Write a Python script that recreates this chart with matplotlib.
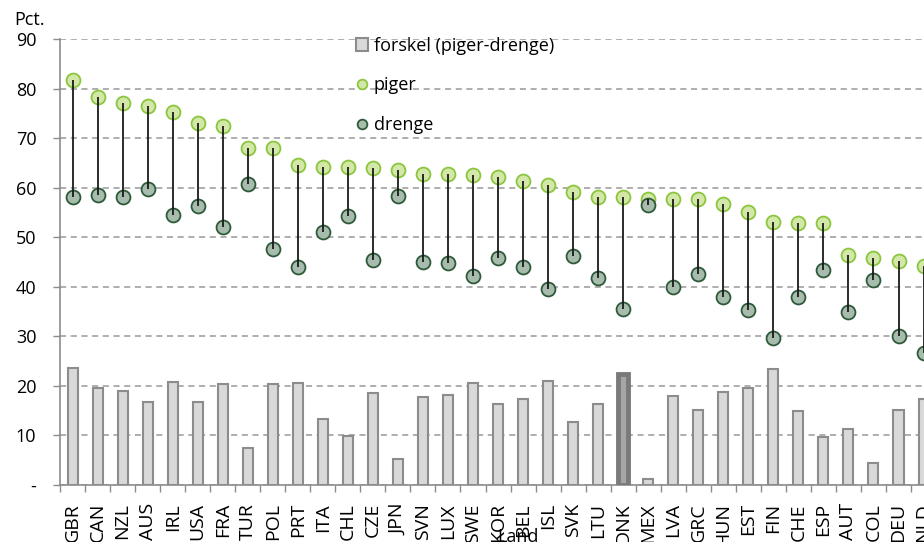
import numpy as np
import matplotlib.pyplot as plt
from matplotlib.lines import Line2D
from matplotlib.patches import Patch

lande = ['GBR', 'CAN', 'NZL', 'AUS', 'IRL', 'USA', 'FRA', 'TUR', 'POL', 'PRT',
         'ITA', 'CHL', 'CZE', 'JPN', 'SVN', 'LUX', 'SWE', 'KOR', 'BEL', 'ISL',
         'SVK', 'LTU', 'DNK', 'MEX', 'LVA', 'GRC', 'HUN', 'EST', 'FIN', 'CHE',
         'ESP', 'AUT', 'COL', 'DEU', 'NLD']
piger = [81.8, 78.2, 77.1, 76.5, 75.2, 73.0, 72.4, 68.1, 68.1, 64.5,
         64.2, 64.2, 64.0, 63.5, 62.8, 62.8, 62.6, 62.1, 61.3, 60.5,
         59.1, 58.2, 58.2, 57.8, 57.8, 57.7, 56.7, 55.0, 53.0, 52.9,
         52.9, 46.5, 45.8, 45.3, 44.2]
drenge = [58.2, 58.6, 58.1, 59.8, 54.5, 56.3, 52.0, 60.8, 47.7, 44.0,
          51.0, 54.3, 45.4, 58.3, 45.0, 44.7, 42.1, 45.8, 44.0, 39.5,
          46.3, 41.8, 35.6, 56.6, 40.0, 42.6, 37.9, 35.3, 29.6, 38.0,
          43.3, 35.0, 41.3, 30.1, 26.7]
forskel = [23.6, 19.6, 19.0, 16.7, 20.7, 16.7, 20.3, 7.4, 20.3, 20.5,
           13.3, 9.9, 18.6, 5.2, 17.8, 18.1, 20.5, 16.3, 17.3, 21.0,
           12.8, 16.4, 22.5, 1.3, 17.9, 15.1, 18.8, 19.6, 23.4, 14.9,
           9.7, 11.4, 4.5, 15.2, 17.3]
y_ticks = [0, 10, 20, 30, 40, 50, 60, 70, 80, 90]
y_labels = ['-', '10', '20', '30', '40', '50', '60', '70', '80', '90']

plt.rcParams['font.family'] = ['Open Sans', 'DejaVu Sans']

fig = plt.figure(figsize=(9.24, 5.42), dpi=100)
# axes runs a bit past the right edge, like in the original cut-out
ax = fig.add_axes([60 / 924, 57 / 542, 35 * 25.03 / 924, 446 / 542])

x = np.arange(len(lande))

# bars
bars = ax.bar(x, forskel, width=0.4, color='#d9d9d9', edgecolor='#8c8c8c',
              linewidth=1.5, zorder=3)
dk = lande.index('DNK')
bars[dk].set_edgecolor('#7a7a7a')
bars[dk].set_linewidth(3.5)
bars[dk].set_facecolor('#a6a6a6')

# dots
ax.plot(x, piger, 'o', ms=10, mfc='#d3e7a9', mec='#8cc63e', mew=1.3,
        ls='none', zorder=4)
ax.plot(x, drenge, 'o', ms=10, mfc='#a8bcad', mec='#2e5a3a', mew=1.3,
        ls='none', zorder=4)
ax.vlines(x, drenge, piger, color='#1a1a1a', lw=1.3, zorder=5)

ax.set_xlim(-0.5, len(lande) - 0.5)
ax.set_ylim(0, 90)
ax.set_yticks(y_ticks)
ax.set_yticklabels(y_labels, fontsize=13)
ax.yaxis.grid(True, ls=(0, (4, 3)), color='#999999', lw=1.1)
ax.set_axisbelow(True)

ax.set_xticks(x)
ax.set_xticklabels(lande, rotation=90, fontsize=14, va='top')
ax.set_xticks(np.arange(len(lande) + 1) - 0.5, minor=True)
ax.tick_params(axis='x', which='major', length=0, pad=13)
ax.tick_params(axis='x', which='minor', length=5, color='#8c8c8c', width=1)
ax.tick_params(axis='y', length=5, color='#8c8c8c', width=1, pad=12)

for s in ['top', 'right']:
    ax.spines[s].set_visible(False)
ax.spines['left'].set_color('#8c8c8c')
ax.spines['bottom'].set_color('#8c8c8c')
ax.spines['left'].set_linewidth(1.2)
ax.spines['bottom'].set_linewidth(1.2)

fig.text(14 / 924, 1 - 20 / 542, 'Pct.', fontsize=13, va='center', ha='left')
# axis title, mostly cut off by the bottom edge as in the original
fig.text(518 / 924, 1 - 528 / 542, 'Land', fontsize=13, ha='center', va='top')

handles = [Patch(facecolor='#d9d9d9', edgecolor='#8c8c8c', lw=1.5),
           Line2D([], [], marker='o', ls='none', ms=7, mfc='#d3e7a9', mec='#8cc63e', mew=1.3),
           Line2D([], [], marker='o', ls='none', ms=7, mfc='#a8bcad', mec='#2e5a3a', mew=1.3)]
leg = ax.legend(handles, ['forskel (piger-drenge)', 'piger', 'drenge'],
                loc='upper left', frameon=False, fontsize=13,
                handlelength=0.7, handletextpad=0.3, labelspacing=1.2,
                borderaxespad=0, borderpad=0.2)
leg.set_bbox_to_anchor((352 / 924, 1 - 33 / 542), transform=fig.transFigure)

fig.savefig('out.png', dpi=100)
